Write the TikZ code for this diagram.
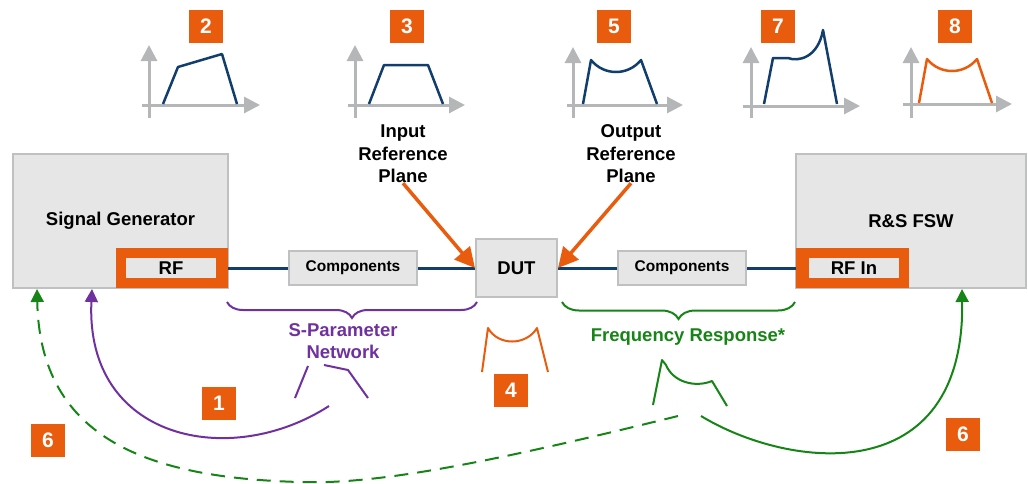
\documentclass[tikz,border=0pt]{standalone}
\usepackage{fontspec}
\setmainfont{Liberation Sans}
\usetikzlibrary{arrows.meta,decorations.pathreplacing}
\definecolor{rsorange}{RGB}{233,92,14}
\definecolor{navy}{RGB}{18,62,110}
\definecolor{purp}{RGB}{112,48,160}
\definecolor{grn}{RGB}{22,132,22}
\definecolor{boxfill}{RGB}{230,230,230}
\definecolor{boxborder}{RGB}{190,192,194}
\definecolor{axisgray}{RGB}{180,182,184}
\begin{document}
\begin{tikzpicture}[x=1pt,y=-1pt,
  box/.style={draw=boxborder, line width=2pt, fill=boxfill, inner sep=0pt},
  big/.style={font=\fontsize{18.5}{22.5}\selectfont\bfseries},
  small/.style={font=\fontsize{15.5}{18}\selectfont\bfseries},
  numbox/.style={fill=rsorange, text=white, minimum width=34pt, minimum height=33pt, inner sep=0pt, font=\fontsize{21}{21}\selectfont\bfseries},
  axis/.style={draw=axisgray, line width=3pt, -{Triangle[width=16pt,length=16pt]}},
  curve/.style={draw=navy, line width=2.5pt, line join=round},
  ocurve/.style={draw=rsorange, line width=2.5pt, line join=round},
  conn/.style={draw=navy, line width=3pt},
  refarrow/.style={draw=rsorange, line width=3.5pt, -{Triangle[width=20pt,length=20pt]}},
  frame/.style={fill=rsorange, inner sep=0pt, minimum width=112pt, minimum height=40pt},
  port/.style={fill=boxfill, inner sep=0pt, minimum width=90pt, minimum height=20pt, big},
  sketchp/.style={draw=purp, line width=2pt, line join=round},
  sketchg/.style={draw=grn, line width=2pt, line join=round},
  purparrow/.style={sketchp, -{Triangle[width=13pt,length=13pt]}},
  grnarrow/.style={sketchg, -{Triangle[width=13pt,length=13pt]}}
]
\useasboundingbox (0,0) rectangle (1028,483);

% main boxes
\node[box, big, minimum width=215pt, minimum height=134pt] (sg) at (120.5,221) {Signal Generator};
\node[frame] (rfframe) at (172,268) {};
\node[port] (rf) at (171,268) {RF};

\node[box, big, minimum width=230pt, minimum height=134pt] (fsw) at (911,221) {R\&S FSW};
\node[frame, minimum width=113pt] (rfinframe) at (852.5,268) {};
\node[port] (rfin) at (854,268) {RF In};

\node[box, small, minimum width=128pt, minimum height=34pt] (comp1) at (353,268) {Components};
\node[box, small, minimum width=128pt, minimum height=34pt] (comp2) at (682,268) {Components};
\node[box, big, minimum width=81pt, minimum height=58pt] (dut) at (516.5,268) {DUT};

% connections
\draw[conn] (rfframe.east) -- (comp1.west);
\draw[conn] (comp1.east) -- (dut.west);
\draw[conn] (dut.east) -- (comp2.west);
\draw[conn] (comp2.east) -- (rfinframe.west);

% reference plane labels
\node[big, align=center, inner sep=0pt] (inref) at (403,154) {Input\\Reference\\Plane};
\node[big, align=center, inner sep=0pt] (outref) at (631,154) {Output\\Reference\\Plane};
\draw[refarrow] (inref.south) -- (dut.west);
\draw[refarrow] (outref.south) -- (dut.east);

% number boxes
\node[numbox] (n2) at (206,26) {2};
\node[numbox] (n3) at (407,26) {3};
\node[numbox] (n5) at (614,26) {5};
\node[numbox] (n7) at (778,26) {7};
\node[numbox] (n8) at (955,26) {8};
\node[numbox] (n1) at (219,403) {1};
\node[numbox] (n4) at (511,390) {4};
\node[numbox] (n6a) at (48,440) {6};
\node[numbox] (n6b) at (963,434) {6};

% icon 2
\draw[axis] (149,118) -- (149,45);
\draw[axis] (142,105) -- (260,105);
\draw[curve] (163,104) -- (178,67) -- (222,54) -- (237,104);
% icon 3
\draw[axis] (355,118) -- (355,45);
\draw[axis] (348,105) -- (465,105);
\draw[curve] (369,104) -- (384,65) -- (428,65) -- (443,104);
% icon 5
\draw[axis] (573,118) -- (573,47);
\draw[axis] (567,105) -- (683,105);
\draw[curve] (583,104) -- (591,60) .. controls (604,76) and (628,76) .. (641,60) -- (657,104);
% icon 7
\draw[axis] (751,118) -- (751,47);
\draw[axis] (743,106) -- (860,106);
\draw[curve] (764,104) -- (773,58) -- (788,58) .. controls (798,62) and (818,58) .. (823,30) -- (837,104);
% icon 8
\draw[axis] (911,118) -- (911,47);
\draw[axis] (903,104) -- (1012,104);
\draw[ocurve] (919,103) -- (927,59) .. controls (940,75) and (964,75) .. (977,59) -- (992,103);

% braces
\draw[purp, line width=2pt, decorate, decoration={brace, amplitude=16pt}] (477,302) -- (227,302);
\draw[grn, line width=2pt, decorate, decoration={brace, amplitude=17pt}] (795,302) -- (562,302);
\node[big, text=purp, align=center, inner sep=0pt] (spar) at (343,341) {S-Parameter\\Network};
\node[big, text=grn, inner sep=0pt] (fresp) at (688,337) {Frequency Response*};

% sketches
\draw[sketchp] (295,398) -- (308,366);
\draw[sketchp] (324,365) -- (348,370) -- (368,398);
\draw[ocurve, line width=2pt] (482,372) -- (488,328) .. controls (498,346) and (526,346) .. (537,328) -- (548,372);
\draw[sketchg] (653,405) -- (662,360) -- (666,365) .. controls (673,382) and (695,388) .. (712,381) -- (727,406);

% feedback arrows
\coordinate (pstart) at (329,406);
\coordinate (gstart) at (678,416);
\coordinate (gstart2) at (701,416);
\draw[purparrow] (pstart) .. controls (230,470) and (85,440) .. ([xshift=80pt]sg.south west);
\draw[grnarrow, dash pattern=on 14pt off 9pt] (gstart) .. controls (500,460) and (380,485) .. (300,482)
   .. controls (150,478) and (40,440) .. ([xshift=25pt]sg.south west);
\draw[grnarrow] (gstart2) .. controls (790,470) and (965,490) .. (fsw.south -| 962,0);
\end{tikzpicture}
\end{document}
